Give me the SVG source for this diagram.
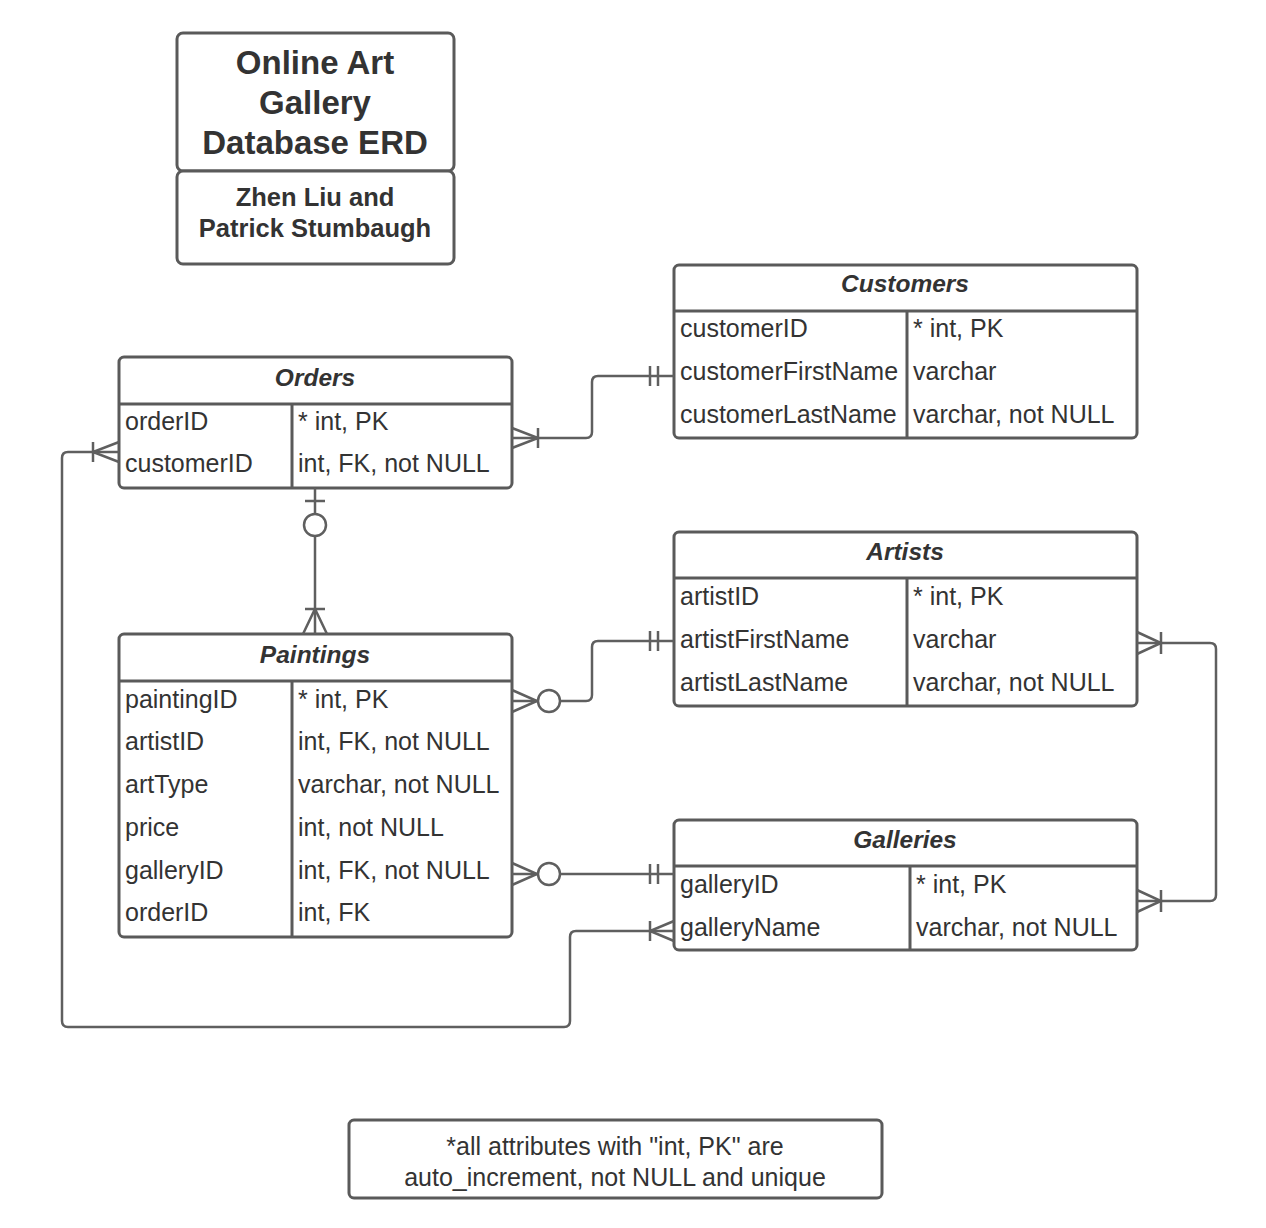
<svg xmlns="http://www.w3.org/2000/svg" width="1266" height="1228" viewBox="0 0 1266 1228">
<style>
.box{fill:#fff;stroke:#5a5a5a;stroke-width:3}
.ln{fill:none;stroke:#5a5a5a;stroke-width:3}
.cn{fill:none;stroke:#5f5f5f;stroke-width:2.5}
.ci{fill:#fff;stroke:#5f5f5f;stroke-width:2.5}
text{font-family:"Liberation Sans",Arial,sans-serif;fill:#333}
.t{font-size:33px;font-weight:bold;text-anchor:middle}
.s{font-size:25.5px;font-weight:bold;text-anchor:middle}
.h{font-size:24.5px;font-weight:bold;font-style:italic;text-anchor:middle}
.a{font-size:25px}
.n{font-size:25px;text-anchor:middle}
</style>
<rect width="1266" height="1228" fill="#fff"/>

<g id="title">
<rect class="box" x="177" y="33" width="277" height="138" rx="6"/>
<rect class="box" x="177" y="171" width="277" height="93" rx="6"/>
<text class="t" x="315" y="74">Online Art</text>
<text class="t" x="315" y="114">Gallery</text>
<text class="t" x="315" y="154">Database ERD</text>
<text class="s" x="315" y="206">Zhen Liu and</text>
<text class="s" x="315" y="237">Patrick Stumbaugh</text>
</g>

<g id="orders">
<rect class="box" x="119" y="357" width="393" height="131" rx="5"/>
<path class="ln" d="M119,404 H512 M292,404 V488"/>
<text class="h" x="315" y="386">Orders</text>
<text class="a" x="125" y="430">orderID</text>
<text class="a" x="298" y="430">* int, PK</text>
<text class="a" x="125" y="472">customerID</text>
<text class="a" x="298" y="472">int, FK, not NULL</text>
</g>

<g id="customers">
<rect class="box" x="674" y="265" width="463" height="173" rx="5"/>
<path class="ln" d="M674,311 H1137 M907,311 V438"/>
<text class="h" x="905" y="292">Customers</text>
<text class="a" x="680" y="337">customerID</text>
<text class="a" x="913" y="337">* int, PK</text>
<text class="a" x="680" y="380">customerFirstName</text>
<text class="a" x="913" y="380">varchar</text>
<text class="a" x="680" y="423">customerLastName</text>
<text class="a" x="913" y="423">varchar, not NULL</text>
</g>

<g id="artists">
<rect class="box" x="674" y="532" width="463" height="174" rx="5"/>
<path class="ln" d="M674,578 H1137 M907,578 V706"/>
<text class="h" x="905" y="560">Artists</text>
<text class="a" x="680" y="605">artistID</text>
<text class="a" x="913" y="605">* int, PK</text>
<text class="a" x="680" y="648">artistFirstName</text>
<text class="a" x="913" y="648">varchar</text>
<text class="a" x="680" y="691">artistLastName</text>
<text class="a" x="913" y="691">varchar, not NULL</text>
</g>

<g id="paintings">
<rect class="box" x="119" y="634" width="393" height="303" rx="5"/>
<path class="ln" d="M119,681 H512 M292,681 V937"/>
<text class="h" x="315" y="663">Paintings</text>
<text class="a" x="125" y="708">paintingID</text>
<text class="a" x="298" y="708">* int, PK</text>
<text class="a" x="125" y="750">artistID</text>
<text class="a" x="298" y="750">int, FK, not NULL</text>
<text class="a" x="125" y="793">artType</text>
<text class="a" x="298" y="793">varchar, not NULL</text>
<text class="a" x="125" y="836">price</text>
<text class="a" x="298" y="836">int, not NULL</text>
<text class="a" x="125" y="879">galleryID</text>
<text class="a" x="298" y="879">int, FK, not NULL</text>
<text class="a" x="125" y="921">orderID</text>
<text class="a" x="298" y="921">int, FK</text>
</g>

<g id="galleries">
<rect class="box" x="674" y="820" width="463" height="130" rx="5"/>
<path class="ln" d="M674,866 H1137 M910,866 V950"/>
<text class="h" x="905" y="848">Galleries</text>
<text class="a" x="680" y="893">galleryID</text>
<text class="a" x="916" y="893">* int, PK</text>
<text class="a" x="680" y="936">galleryName</text>
<text class="a" x="916" y="936">varchar, not NULL</text>
</g>

<g id="note">
<rect class="box" x="349" y="1120" width="533" height="78" rx="5"/>
<text class="n" x="615" y="1155">*all attributes with "int, PK" are</text>
<text class="n" x="615" y="1186">auto_increment, not NULL and unique</text>
</g>

<g id="connectors">
<path class="cn" d="M512,438 H586 Q592,438 592,432 V382 Q592,376 598,376 H674"/>
<path class="cn" d="M512,428 L538,438 L512,448 M538,428 V448"/>
<path class="cn" d="M650,366 V386 M658,366 V386"/>
<path class="cn" d="M315,488 V634"/>
<path class="cn" d="M305,501 H325"/>
<circle class="ci" cx="315" cy="525" r="11"/>
<path class="cn" d="M303,634 L315,609 L327,634 M305,609 H325"/>
<path class="cn" d="M119,452 H68 Q62,452 62,458 V1021 Q62,1027 68,1027 H564 Q570,1027 570,1021 V937 Q570,931 576,931 H674"/>
<path class="cn" d="M119,442 L93,452 L119,462 M93,442 V462"/>
<path class="cn" d="M674,921 L650,931 L674,941 M650,921 V941"/>
<path class="cn" d="M512,701 H586 Q592,701 592,695 V647 Q592,641 598,641 H674"/>
<path class="cn" d="M512,690 L537,701 L512,712"/>
<circle class="ci" cx="549" cy="701" r="11"/>
<path class="cn" d="M650,631 V651 M658,631 V651"/>
<path class="cn" d="M512,874 H674"/>
<path class="cn" d="M512,863 L537,874 L512,885"/>
<circle class="ci" cx="549" cy="874" r="11"/>
<path class="cn" d="M650,864 V884 M658,864 V884"/>
<path class="cn" d="M1137,643 H1210 Q1216,643 1216,649 V895 Q1216,901 1210,901 H1137"/>
<path class="cn" d="M1137,632 L1161,643 L1137,654 M1161,632 V654"/>
<path class="cn" d="M1137,890 L1161,901 L1137,912 M1161,890 V912"/>
</g>
</svg>
